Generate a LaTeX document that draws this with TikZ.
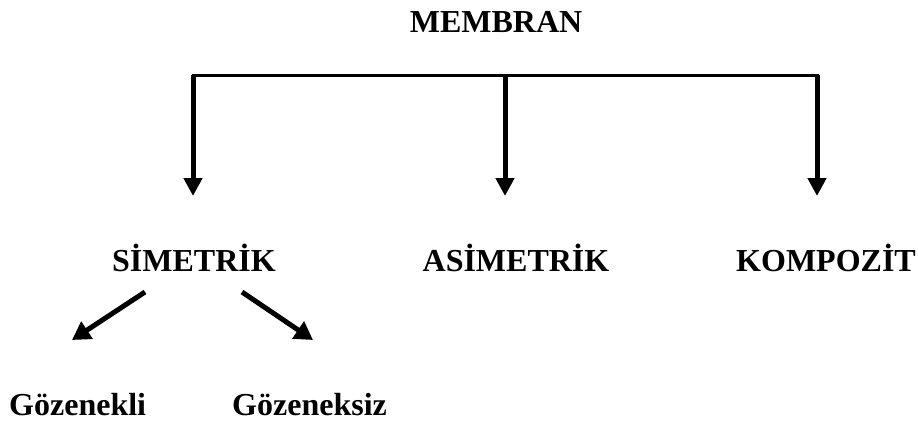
\documentclass[tikz,border=0pt]{standalone}
\usepackage{fontspec}
\setmainfont{Liberation Serif}
\usetikzlibrary{arrows.meta}
\tikzset{
  lbl/.style={font=\bfseries\fontsize{32}{38}\selectfont, inner sep=0pt, anchor=base},
  bar/.style={line width=3pt, line cap=rect, line join=miter},
  drop/.style={line width=5pt, -{Triangle[width=18pt,length=18pt]}},
  slant/.style={line width=5pt, -{Triangle[width=20pt,length=18pt]}}
}
\begin{document}
\begin{tikzpicture}[x=1pt,y=-1pt]
\useasboundingbox (0,0) rectangle (918,426);
\node[lbl] (mem) at (496,32) {MEMBRAN};
\node[lbl] (sim) at (194,271) {SİMETRİK};
\node[lbl] (asim) at (516,271) {ASİMETRİK};
\node[lbl] (komp) at (826,271) {KOMPOZİT};
\node[lbl, anchor=base west] (goz1) at (9,415) {Gözenekli};
\node[lbl, anchor=base west] (goz2) at (232,415) {Gözeneksiz};
\coordinate (bl) at (193,75);
\coordinate (bm) at (505,75);
\coordinate (br) at (817,75);
\coordinate (tl) at (193,196);
\coordinate (tm) at (505,196);
\coordinate (tr) at (817,196);
\coordinate (s1) at (145,292);
\coordinate (e1) at (72,340);
\coordinate (s2) at (242,292);
\coordinate (e2) at (313,340);
\draw[bar] (bl) -- (br);
\draw[drop] (bl) -- (tl);
\draw[drop] (bm) -- (tm);
\draw[drop] (br) -- (tr);
\draw[slant] (s1) -- (e1);
\draw[slant] (s2) -- (e2);
\end{tikzpicture}
\end{document}
